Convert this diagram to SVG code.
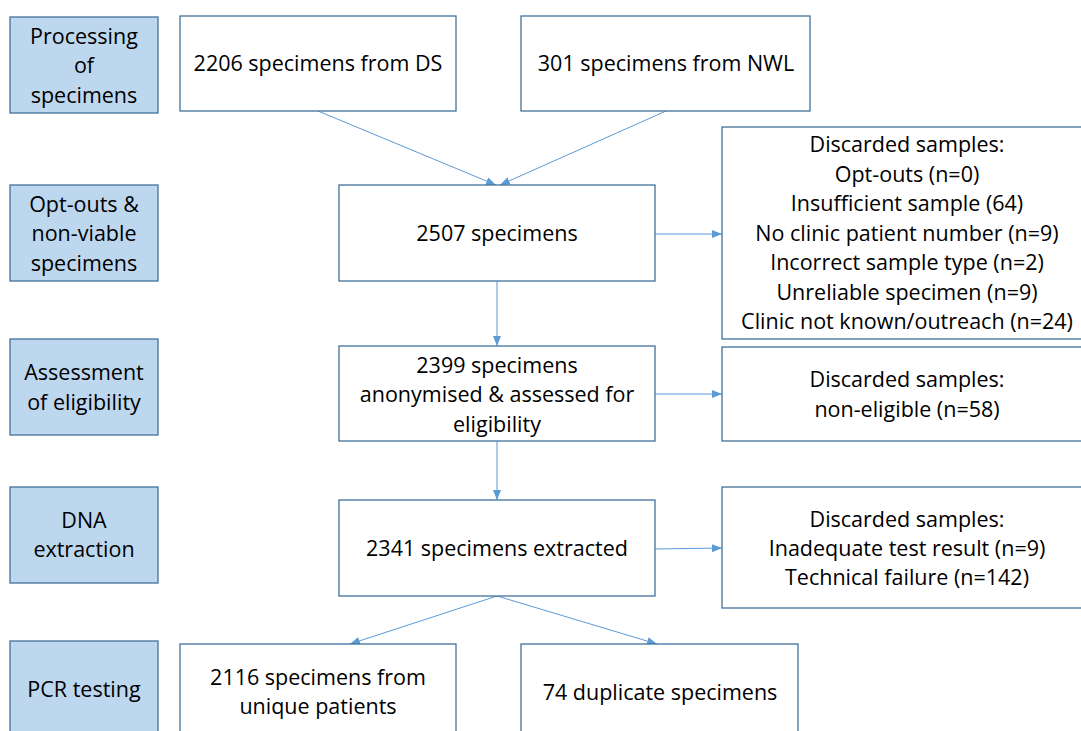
<svg xmlns="http://www.w3.org/2000/svg" width="1081" height="731" viewBox="0 0 1081 731">
<defs>
<style>
.stage{fill:#BDD7EE;stroke:#41719C;stroke-width:1.3}
.box{fill:#FFFFFF;stroke:#41719C;stroke-width:1.3}
.t{font-family:"Open Sans","Noto Sans",sans-serif;font-size:21.5px;fill:#000;text-anchor:middle}
.c{stroke:#5B9BD5;stroke-width:1;fill:none;marker-end:url(#ah)}
</style>
<marker id="ah" viewBox="0 0 10 10" refX="10" refY="5" markerWidth="10" markerHeight="10" markerUnits="userSpaceOnUse" orient="auto">
<path d="M0,1 L10,5 L0,9 Z" fill="#5B9BD5"/>
</marker>
</defs>
<rect width="1081" height="731" fill="#FFFFFF"/>

<g id="connectors">
<line class="c" x1="318" y1="111" x2="496" y2="185"/>
<line class="c" x1="666" y1="111" x2="500" y2="185"/>
<line class="c" x1="497" y1="281" x2="497" y2="346"/>
<line class="c" x1="655" y1="234" x2="722" y2="234"/>
<line class="c" x1="655" y1="394" x2="722" y2="394"/>
<line class="c" x1="497" y1="441" x2="497" y2="500"/>
<line class="c" x1="655" y1="549" x2="722" y2="548"/>
<line class="c" x1="497" y1="596" x2="350" y2="644"/>
<line class="c" x1="497" y1="596" x2="657" y2="644"/>
</g>

<g id="stage-processing">
<rect class="stage" x="10" y="17" width="148" height="96"/>
<text class="t" x="84" y="44">Processing</text>
<text class="t" x="84" y="73">of</text>
<text class="t" x="84" y="103">specimens</text>
</g>
<g id="stage-optouts">
<rect class="stage" x="10" y="185" width="148" height="96"/>
<text class="t" x="84" y="212">Opt-outs &amp;</text>
<text class="t" x="84" y="241">non-viable</text>
<text class="t" x="84" y="271">specimens</text>
</g>
<g id="stage-assessment">
<rect class="stage" x="10" y="339" width="148" height="96"/>
<text class="t" x="84" y="380">Assessment</text>
<text class="t" x="84" y="410">of eligibility</text>
</g>
<g id="stage-dna">
<rect class="stage" x="10" y="487" width="148" height="96"/>
<text class="t" x="84" y="528">DNA</text>
<text class="t" x="84" y="557">extraction</text>
</g>
<g id="stage-pcr">
<rect class="stage" x="10" y="641" width="148" height="100"/>
<text class="t" x="84" y="697">PCR testing</text>
</g>

<g id="ds">
<rect class="box" x="180" y="16" width="276" height="95"/>
<text class="t" x="318" y="71">2206 specimens from DS</text>
</g>
<g id="nwl">
<rect class="box" x="521" y="16" width="289" height="95"/>
<text class="t" x="666" y="71">301 specimens from NWL</text>
</g>
<g id="n2507">
<rect class="box" x="339" y="185" width="316" height="96"/>
<text class="t" x="497" y="241">2507 specimens</text>
</g>
<g id="discard1">
<rect class="box" x="722" y="127" width="370" height="212"/>
<text class="t" x="907" y="152">Discarded samples:</text>
<text class="t" x="907" y="182">Opt-outs (n=0)</text>
<text class="t" x="907" y="211">Insufficient sample (64)</text>
<text class="t" x="907" y="241">No clinic patient number (n=9)</text>
<text class="t" x="907" y="270">Incorrect sample type (n=2)</text>
<text class="t" x="907" y="300">Unreliable specimen (n=9)</text>
<text class="t" x="907" y="329">Clinic not known/outreach (n=24)</text>
</g>
<g id="n2399">
<rect class="box" x="339" y="346" width="316" height="95"/>
<text class="t" x="497" y="373">2399 specimens</text>
<text class="t" x="497" y="402">anonymised &amp; assessed for</text>
<text class="t" x="497" y="432">eligibility</text>
</g>
<g id="discard2">
<rect class="box" x="722" y="347" width="370" height="94"/>
<text class="t" x="907" y="387">Discarded samples:</text>
<text class="t" x="907" y="417">non-eligible (n=58)</text>
</g>
<g id="n2341">
<rect class="box" x="339" y="500" width="316" height="96"/>
<text class="t" x="497" y="556">2341 specimens extracted</text>
</g>
<g id="discard3">
<rect class="box" x="722" y="487" width="370" height="121"/>
<text class="t" x="907" y="527">Discarded samples:</text>
<text class="t" x="907" y="556">Inadequate test result (n=9)</text>
<text class="t" x="907" y="585">Technical failure (n=142)</text>
</g>
<g id="n2116">
<rect class="box" x="180" y="644" width="276" height="100"/>
<text class="t" x="318" y="685">2116 specimens from</text>
<text class="t" x="318" y="714">unique patients</text>
</g>
<g id="n74">
<rect class="box" x="521" y="644" width="277" height="100"/>
<text class="t" x="660" y="700">74 duplicate specimens</text>
</g>
</svg>
